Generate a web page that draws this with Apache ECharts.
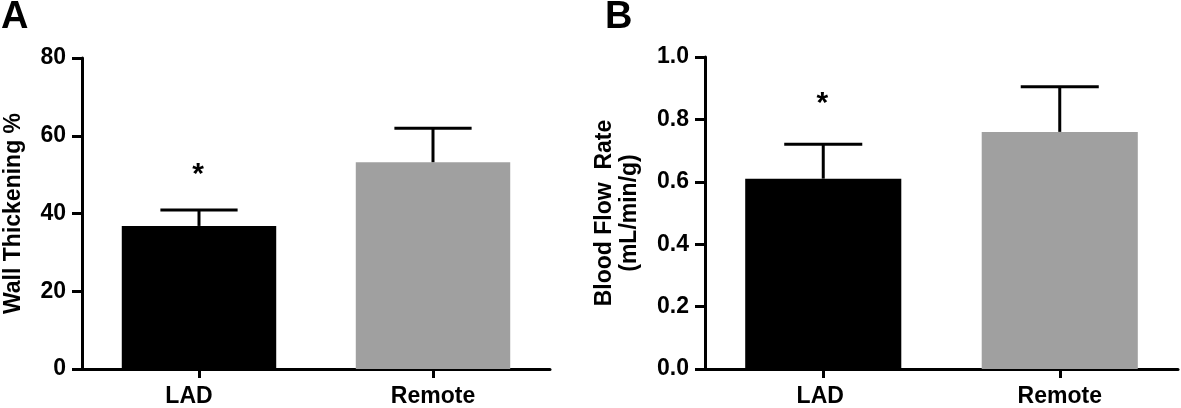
<!DOCTYPE html>
<html>
<head>
<meta charset="utf-8">
<script src="https://cdn.jsdelivr.net/npm/echarts@6/dist/echarts.min.js"></script>
<style>
  html, body { margin: 0; padding: 0; background: #fff; }
  #chart { width: 1181px; height: 408px; }
</style>
</head>
<body>
<div id="chart"></div>
<script>
// ── Data ─────────────────────────────────────────────────────────────────
var groups = ['LAD', 'Remote'];

// Panel A: wall thickening %
var wallMean = [36.8, 53.2];
var wallErr  = [4.1, 8.7];
var wallStar = [50, null];

// Panel B: blood flow rate (mL/min/g)
var flowMean = [0.61, 0.76];
var flowErr  = [0.11, 0.145];
var flowStar = [0.85, null];

var barColors = ['#000000', '#a0a0a0'];

// ── Helpers ──────────────────────────────────────────────────────────────
var FONT = '"Liberation Sans", Arial, sans-serif';
var axisLine = { lineStyle: { color: '#000', width: 3 } };

function errorItem(params, api) {
  var x = api.value(0);
  var top = api.coord([x, api.value(1) + api.value(2)]);
  var base = api.coord([x, api.value(1)]);
  var half = api.size([1, 0])[0] * 0.66 / 4;
  var style = { stroke: '#000', lineWidth: 3 };
  return {
    type: 'group',
    children: [
      { type: 'line', shape: { x1: top[0], y1: top[1], x2: base[0], y2: base[1] }, style: style },
      { type: 'line', shape: { x1: top[0] - half, y1: top[1], x2: top[0] + half, y2: top[1] }, style: style }
    ]
  };
}

function starItem(params, api) {
  var p = api.coord([api.value(0), api.value(1)]);
  return {
    type: 'text',
    style: {
      text: '*', x: p[0] - 1, y: p[1], fill: '#000',
      font: 'bold 30px ' + FONT, align: 'center', verticalAlign: 'middle'
    }
  };
}

function errData(mean, err) {
  return mean.map(function (m, i) { return [i, m, err[i]]; });
}
function starData(star) {
  var out = [];
  star.forEach(function (v, i) { if (v != null) out.push([i, v]); });
  return out;
}

function xAxisFor(idx, cats) {
  return {
    type: 'category', gridIndex: idx, data: cats,
    axisLine: axisLine,
    axisTick: { show: true, alignWithLabel: true, length: 9, lineStyle: { width: 3, color: '#000' } },
    axisLabel: { color: '#000', fontFamily: FONT, fontWeight: 'bold', fontSize: 23, margin: 16 }
  };
}

function yAxisFor(idx, max, interval, name, gap, fmt) {
  return {
    type: 'value', gridIndex: idx, min: 0, max: max, interval: interval,
    name: name, nameLocation: 'middle', nameGap: gap, nameRotate: 90,
    nameTextStyle: { color: '#000', fontFamily: FONT, fontWeight: 'bold', fontSize: 23, lineHeight: 25 },
    axisLine: { show: true, lineStyle: { color: '#000', width: 3 } },
    axisTick: { show: true, length: 10, lineStyle: { width: 3, color: '#000' } },
    splitLine: { show: false },
    axisLabel: { color: '#000', fontFamily: FONT, fontWeight: 'bold', fontSize: 23, margin: 16, formatter: fmt }
  };
}

function barSeries(idx, values) {
  return {
    type: 'bar', xAxisIndex: idx, yAxisIndex: idx, barWidth: '66%',
    data: values.map(function (v, i) { return { value: v, itemStyle: { color: barColors[i] } }; }),
    silent: true
  };
}

// panel A's LAD label sits a little left of its tick in the original
var catsA = [{ value: groups[0], textStyle: { padding: [0, 20, 0, 0] } }, groups[1]];
var catsB = [{ value: groups[0], textStyle: { padding: [0, 6, 0, 0] } }, groups[1]];

// ── Chart ────────────────────────────────────────────────────────────────
var chart = echarts.init(document.getElementById('chart'), null, { renderer: 'canvas' });

chart.setOption({
  animation: false,
  backgroundColor: '#fff',
  title: [
    { text: 'A', left: -4, top: -6, textStyle: { fontFamily: FONT, fontWeight: 'bold', fontSize: 38, color: '#000' } },
    { text: 'B', left: 600, top: -6, textStyle: { fontFamily: FONT, fontWeight: 'bold', fontSize: 38, color: '#000' } }
  ],
  grid: [
    { left: 80, right: 631, top: 58, bottom: 37 },
    { left: 705, right: 3, top: 57, bottom: 37 }
  ],
  xAxis: [xAxisFor(0, catsA), xAxisFor(1, catsB)],
  yAxis: [
    yAxisFor(0, 80, 20, 'Wall Thickening %', 56, null),
    yAxisFor(1, 1.0, 0.2, 'Blood Flow  Rate\n(mL/min/g)', 63, function (v) { return v.toFixed(1); })
  ],
  series: [
    barSeries(0, wallMean),
    { type: 'custom', xAxisIndex: 0, yAxisIndex: 0, renderItem: errorItem, data: errData(wallMean, wallErr), z: 3 },
    { type: 'custom', xAxisIndex: 0, yAxisIndex: 0, renderItem: starItem, data: starData(wallStar), z: 3 },
    barSeries(1, flowMean),
    { type: 'custom', xAxisIndex: 1, yAxisIndex: 1, renderItem: errorItem, data: errData(flowMean, flowErr), z: 3 },
    { type: 'custom', xAxisIndex: 1, yAxisIndex: 1, renderItem: starItem, data: starData(flowStar), z: 3 }
  ]
});
</script>
</body>
</html>
